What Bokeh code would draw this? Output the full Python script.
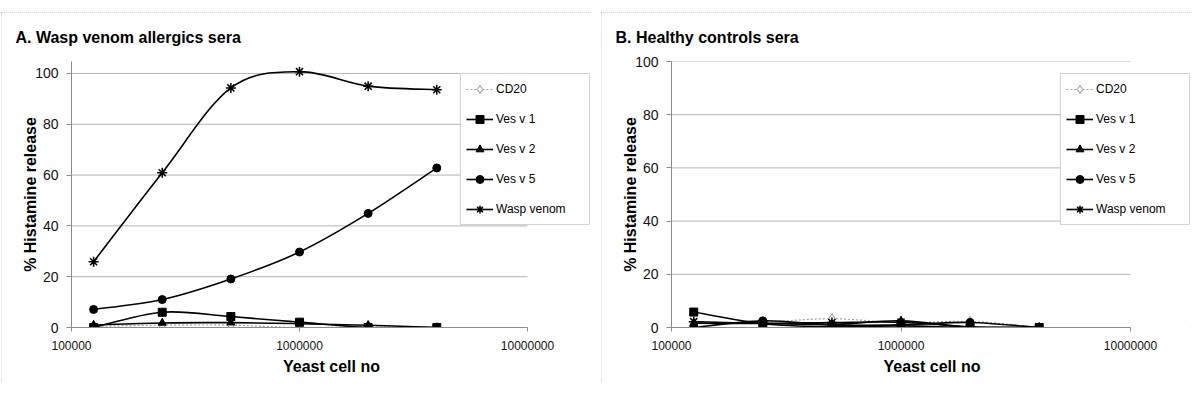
import numpy as np
from bokeh.plotting import figure
from bokeh.models import (Range1d, FixedTicker, BasicTickFormatter, Legend, LegendItem,
                          ColumnDataSource, Spacer)
from bokeh.layouts import row, column
from bokeh.embed import file_html
from bokeh.resources import INLINE

# ---------------- data ----------------
yeast_cells = [125000, 250000, 500000, 1000000, 2000000, 4000000]
series_names = ["CD20", "Ves v 1", "Ves v 2", "Ves v 5", "Wasp venom"]

a_cd20 = [0.5, 0.9, 0.9, 0.0, 0.3, 0.0]
a_vesv1 = [0.0, 6.0, 4.3, 2.1, 0.0, 0.0]
a_vesv2 = [1.0, 1.8, 1.9, 1.5, 0.9, 0.0]
a_vesv5 = [7.1, 11.0, 19.1, 29.7, 44.9, 62.8]
a_wasp = [25.9, 60.9, 94.3, 100.7, 95.0, 93.6]

b_cd20 = [1.5, 2.0, 3.3, 1.8, 2.3, 0.0]
b_vesv1 = [5.8, 1.4, 0.3, 0.6, 0.0, 0.0]
b_vesv2 = [1.6, 1.5, 1.2, 2.5, 0.1, 0.0]
b_vesv5 = [0.0, 2.5, 1.0, 1.0, 1.9, 0.0]
b_wasp = [2.2, 1.6, 1.9, 2.0, 0.3, 0.0]

y_ticks = [0, 20, 40, 60, 80, 100]
x_ticks = [100000, 1000000, 10000000]

titles = ["A. Wasp venom allergics sera", "B. Healthy controls sera"]
x_label = "Yeast cell no"
y_label = "% Histamine release"

FONT = "Liberation Sans"

STYLES = {
    "CD20": dict(line_color="#a0a0a0", line_dash="2 2", line_width=1.2, marker="diamond",
                 size=10, fill_color="white", marker_line="#8a8a8a", marker_width=1),
    "Ves v 1": dict(line_color="black", line_dash="solid", line_width=1.6, marker="square",
                    size=8, fill_color="black", marker_line="black", marker_width=1),
    "Ves v 2": dict(line_color="black", line_dash="solid", line_width=1.6, marker="triangle",
                    size=8, fill_color="black", marker_line="black", marker_width=1),
    "Ves v 5": dict(line_color="black", line_dash="solid", line_width=1.6, marker="circle",
                    size=8, fill_color="black", marker_line="black", marker_width=1),
    "Wasp venom": dict(line_color="black", line_dash="solid", line_width=1.6, marker="asterisk",
                       size=10, fill_color="black", marker_line="black", marker_width=1.5),
}


def smooth_segments(xs, ys):
    """Cubic Bezier control points (Catmull-Rom style, like a spreadsheet's
    smoothed line) computed in log10(x) space so they map through the log scale."""
    lx = np.log10(np.asarray(xs, float))
    y = np.asarray(ys, float)
    n = len(lx)
    d = {k: [] for k in ("x0", "y0", "x1", "y1", "cx0", "cy0", "cx1", "cy1")}
    for i in range(n - 1):
        ip = max(i - 1, 0)
        inn = min(i + 2, n - 1)
        c1x = lx[i] + (lx[i + 1] - lx[ip]) / 6.0
        c1y = y[i] + (y[i + 1] - y[ip]) / 6.0
        c2x = lx[i + 1] - (lx[inn] - lx[i]) / 6.0
        c2y = y[i + 1] - (y[inn] - y[i]) / 6.0
        d["x0"].append(10 ** lx[i]); d["y0"].append(y[i])
        d["x1"].append(10 ** lx[i + 1]); d["y1"].append(y[i + 1])
        d["cx0"].append(10 ** c1x); d["cy0"].append(c1y)
        d["cx1"].append(10 ** c2x); d["cy1"].append(c2y)
    return d


def make_panel(title, series, y_max, width, mb_left, mb_top, axis_px, title_offset):
    # the plotting frame runs to the right edge so the legend box can sit over it;
    # the x axis itself (line + ticks) spans only 1e5..1e7, axis_px pixels wide
    frame_w = width - mb_left
    x_end = 10 ** (np.log10(x_ticks[0]) + frame_w / (axis_px / 2.0))
    p = figure(width=width, height=370, x_axis_type="log",
               x_range=Range1d(x_ticks[0], x_end), y_range=Range1d(0, y_max),
               output_backend="svg", toolbar_location=None,
               min_border_left=mb_left, min_border_right=0,
               min_border_top=mb_top, min_border_bottom=55,
               styles={"outline": "1px dotted #c4c4c4", "outline-offset": "-1px"})
    p.outline_line_color = None
    p.background_fill_color = "white"
    p.border_fill_color = "white"

    p.title.text = title
    p.title.text_font = FONT
    p.title.text_font_size = "16px"
    p.title.text_font_style = "bold"
    p.title.text_color = "black"
    p.title.align = "left"
    p.title.vertical_align = "top"
    p.title.offset = title_offset
    p.title.standoff = 28

    # axes
    p.xaxis.ticker = FixedTicker(ticks=x_ticks, minor_ticks=[])
    p.xaxis.formatter = BasicTickFormatter(use_scientific=False)
    p.xaxis.bounds = (x_ticks[0], x_ticks[-1])
    p.yaxis.ticker = FixedTicker(ticks=y_ticks, minor_ticks=[])
    for ax in (p.xaxis[0], p.yaxis[0]):
        ax.axis_line_color = "#8c8c8c"
        ax.major_tick_line_color = "#8c8c8c"
        ax.major_tick_in = 0
        ax.minor_tick_line_color = None
        ax.major_label_text_font = FONT
        ax.major_label_text_color = "#111111"
        ax.axis_label_text_font = FONT
        ax.axis_label_text_font_style = "bold"
        ax.axis_label_text_font_size = "16px"
        ax.axis_label_text_color = "black"
    p.xaxis.major_tick_out = 4
    p.xaxis.major_label_text_font_size = "12px"
    p.xaxis.major_label_standoff = 9
    p.xaxis.axis_label = x_label
    p.xaxis.axis_label_standoff = 5
    p.yaxis.major_tick_out = 5
    p.yaxis.major_label_text_font_size = "14px"
    p.yaxis.major_label_standoff = 8
    p.yaxis.axis_label = y_label
    p.yaxis.axis_label_standoff = -7

    # horizontal grid lines only across the axis extent
    p.xgrid.visible = False
    p.ygrid.visible = False
    p.segment(x0=x_ticks[0], x1=x_ticks[-1], y0=y_ticks[1:], y1=y_ticks[1:],
              line_color="#b4b4b4", line_width=1, level="underlay")

    items = []
    for name, vals in zip(series_names, series):
        st = STYLES[name]
        seg = ColumnDataSource(smooth_segments(yeast_cells, vals))
        br = p.bezier(x0="x0", y0="y0", x1="x1", y1="y1", cx0="cx0", cy0="cy0",
                      cx1="cx1", cy1="cy1", source=seg, line_color=st["line_color"],
                      line_width=st["line_width"], line_dash=st["line_dash"])
        pts = ColumnDataSource(dict(x=yeast_cells, y=vals))
        sr = p.scatter(x="x", y="y", source=pts, marker=st["marker"], size=st["size"],
                       fill_color=st["fill_color"], line_color=st["marker_line"],
                       line_width=st["marker_width"])
        items.append(LegendItem(label=name, renderers=[br, sr]))

    legend = Legend(items=items, location=(389, 102))
    legend.margin = 0
    legend.padding = 5
    legend.spacing = 10
    legend.glyph_width = 27
    legend.glyph_height = 20
    legend.label_height = 20
    legend.label_standoff = 3
    legend.label_width = 88
    legend.label_text_font = FONT
    legend.label_text_font_size = "12px"
    legend.label_text_color = "black"
    legend.border_line_color = "#a8a8a8"
    legend.border_line_width = 1
    legend.background_fill_color = "white"
    legend.background_fill_alpha = 1.0
    p.add_layout(legend)
    return p


pA = make_panel(titles[0], [a_cd20, a_vesv1, a_vesv2, a_vesv5, a_wasp], 104.7,
                590, 70, 48, 456, -56)
pB = make_panel(titles[1], [b_cd20, b_vesv1, b_vesv2, b_vesv5, b_wasp], 100,
                591, 70, 49, 459, -56)

layout = column(Spacer(height=12),
                row(pA, pB, spacing=10, styles={"margin-left": "1px"}))

open("out.html", "w").write(file_html(layout, INLINE))
